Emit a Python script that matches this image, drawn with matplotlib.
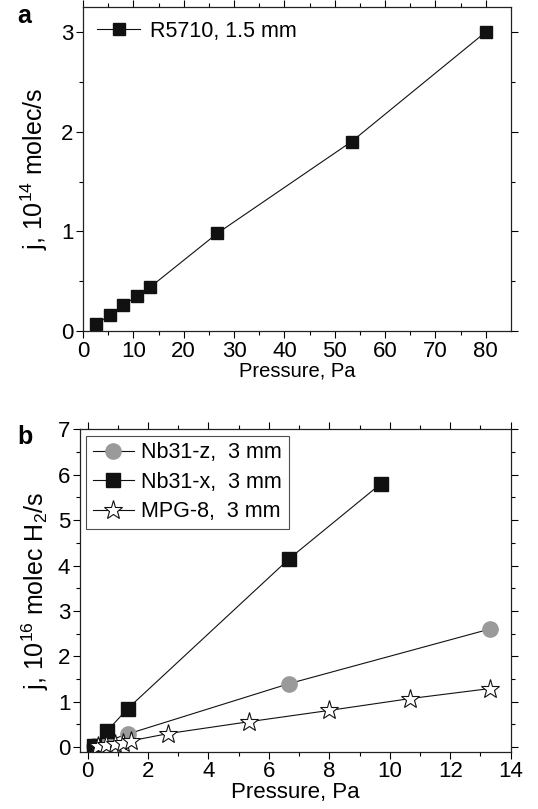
import numpy as np
import matplotlib
matplotlib.use("Agg")
import matplotlib.pyplot as plt

plt.rcParams['font.family'] = ['Liberation Sans', 'DejaVu Sans']
plt.rcParams['mathtext.default'] = 'regular'

# panel a data
p_a = [2.67, 5.33, 8.0, 10.67, 13.33, 26.67, 53.33, 80.0]
j_a = [0.07, 0.16, 0.26, 0.35, 0.44, 0.98, 1.90, 3.0]
label_a = "R5710, 1.5 mm"

# panel b data
p_z = [0.2, 0.67, 1.33, 6.67, 13.3]
j_z = [0.02, 0.14, 0.29, 1.40, 2.60]
p_x = [0.2, 0.65, 1.33, 6.67, 9.7]
j_x = [0.03, 0.36, 0.85, 4.15, 5.80]
p_m = [0.33, 0.62, 0.9, 1.17, 1.43, 2.67, 5.33, 8.0, 10.67, 13.3]
j_m = [0.02, 0.05, 0.07, 0.10, 0.14, 0.30, 0.56, 0.81, 1.07, 1.29]
labels_b = ["Nb31-z,  3 mm", "Nb31-x,  3 mm", "MPG-8,  3 mm"]

fs = 16

fig = plt.figure(figsize=(5.38, 8.09), dpi=100)

def style(ax):
    ax.tick_params(which='both', direction='out', top=True, right=True,
                   labeltop=False, labelright=False, labelsize=fs, width=0.8, pad=2)
    ax.tick_params(which='major', length=5)
    ax.tick_params(which='minor', length=3)
    for s in ax.spines.values():
        s.set_linewidth(0.9)
        s.set_color('#222222')

# ---- a ----
ax1 = fig.add_axes([0.1543, 0.5908, 0.7955, 0.4005])
ax1.plot(p_a, j_a, '-s', color='#111111', lw=0.8, ms=9, mfc='#111111', mec='#111111',
         label=label_a)
ax1.set_xlim(0, 85)
ax1.set_ylim(0, 3.25)
ax1.set_xticks(np.arange(0, 81, 10))
ax1.set_xticks(np.arange(5, 85, 10), minor=True)
ax1.set_yticks([0, 1, 2, 3])
ax1.set_yticks([0.5, 1.5, 2.5], minor=True)
style(ax1)
ax1.set_xlabel("Pressure, Pa", fontsize=14.5, labelpad=0)
ax1.set_ylabel("j, 10$^{14}$ molec/s", fontsize=18, labelpad=8)
ax1.legend(loc='upper left', frameon=False, fontsize=15.5, handlelength=2.0,
           handletextpad=0.45, borderaxespad=0.25)
fig.text(0.032, 0.995, "a", fontsize=18, fontweight='bold', va='top')

# ---- b ----
ax2 = fig.add_axes([0.1487, 0.0708, 0.8006, 0.3985])
ax2.plot(p_z, j_z, '-o', color='#111111', lw=0.8, ms=11, mfc='#9a9a9a', mec='#9a9a9a',
         label=labels_b[0])
ax2.plot(p_x, j_x, '-s', color='#111111', lw=0.8, ms=10, mfc='#111111', mec='#111111',
         label=labels_b[1])
ax2.plot(p_m, j_m, '-*', color='#111111', lw=0.8, ms=14, mfc='white', mec='#111111',
         mew=0.8, label=labels_b[2])
ax2.set_xlim(-0.25, 14)
ax2.set_ylim(-0.1, 7)
ax2.set_xticks(np.arange(0, 15, 2))
ax2.set_xticks(np.arange(1, 14, 2), minor=True)
ax2.set_yticks(np.arange(0, 8, 1))
ax2.set_yticks(np.arange(0.5, 7, 1), minor=True)
style(ax2)
ax2.set_xlabel("Pressure, Pa", fontsize=16, labelpad=0)
ax2.set_ylabel("j, 10$^{16}$ molec H$_2$/s", fontsize=18, labelpad=5)
leg = ax2.legend(loc='upper left', frameon=True, fancybox=False, fontsize=15.5,
                 handlelength=1.9, handletextpad=0.35, borderpad=0.3,
                 labelspacing=0.4, borderaxespad=0.3)
leg.get_frame().set_edgecolor('#222222')
leg.get_frame().set_linewidth(0.8)
fig.text(0.032, 0.475, "b", fontsize=18, fontweight='bold', va='top')

fig.savefig("out.png", dpi=100)
